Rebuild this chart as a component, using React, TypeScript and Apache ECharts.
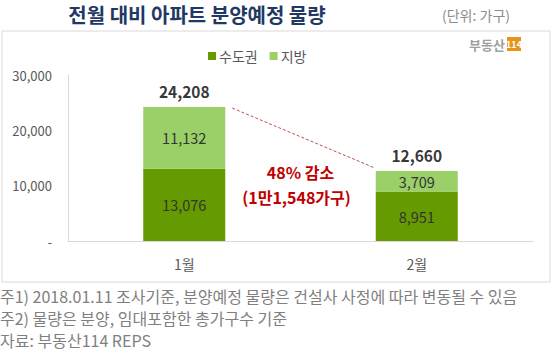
import React, { useEffect, useRef } from "react";
import * as echarts from "echarts";

const categories = ["1월", "2월"];
const capitalArea = [13076, 8951];
const regional = [11132, 3709];
const totals = [24208, 12660];
const seriesNames = ["수도권", "지방"];
const yTicks = [0, 10000, 20000, 30000];
const changeText = ["48% 감소", "(1만1,548가구)"];
const notes = [
  "주1) 2018.01.11 조사기준, 분양예정 물량은 건설사 사정에 따라 변동될 수 있음",
  "주2) 물량은 분양, 임대포함한 총가구수 기준",
  "자료: 부동산114 REPS",
];

const FONT = "'Noto Sans CJK KR', 'Noto Sans', sans-serif";

export default function App() {
  const ref = useRef<HTMLDivElement>(null);
  useEffect(() => {
    if (!ref.current) return;
    const chart = echarts.init(ref.current, null, { renderer: "svg" });
    const barW = 82;
    const fmt = (v: number) => (v === 0 ? "-" : v.toLocaleString("en-US"));
    chart.setOption({
      animation: false,
      textStyle: { fontFamily: FONT },
      grid: { left: 68, right: 27, top: 75, bottom: 116, containLabel: false },
      legend: {
        data: seriesNames,
        top: 44,
        left: 203,
        itemWidth: 8,
        itemHeight: 8,
        itemGap: 12,
        icon: "rect",
        textStyle: { fontSize: 14, color: "#595959", fontFamily: FONT, padding: [0, 0, 0, -2] },
      },
      xAxis: {
        type: "category",
        data: categories,
        axisLine: { lineStyle: { color: "#d9d9d9" } },
        axisTick: { show: false },
        axisLabel: { color: "#595959", fontSize: 14, margin: 16, fontFamily: FONT },
      },
      yAxis: {
        type: "value",
        min: yTicks[0],
        max: yTicks[yTicks.length - 1],
        interval: 10000,
        axisLine: { show: true, lineStyle: { color: "#d9d9d9" } },
        axisTick: { show: false },
        splitLine: { show: false },
        axisLabel: { color: "#595959", fontSize: 13, margin: 16, formatter: fmt, fontFamily: FONT },
      },
      series: [
        {
          name: seriesNames[0],
          type: "bar",
          stack: "t",
          barWidth: barW,
          data: capitalArea,
          itemStyle: { color: "#659a00" },
          label: { show: true, position: "inside", color: "#333", fontSize: 14.5, formatter: (p: any) => fmt(p.value), fontFamily: FONT },
        },
        {
          name: seriesNames[1],
          type: "bar",
          stack: "t",
          barWidth: barW,
          data: regional,
          itemStyle: { color: "#9bcf67" },
          label: { show: true, position: "inside", color: "#333", fontSize: 14.5, formatter: (p: any) => fmt(p.value), fontFamily: FONT },
        },
        {
          name: "합계",
          type: "scatter",
          data: totals,
          symbolSize: 0,
          silent: true,
          label: { show: true, position: "top", distance: 8, color: "#000", fontSize: 15.5, fontWeight: "bold", formatter: (p: any) => fmt(p.value), fontFamily: FONT },
        },
      ],
    });

    const p1 = chart.convertToPixel({ gridIndex: 0 }, [0, totals[0]]) as number[];
    const p2 = chart.convertToPixel({ gridIndex: 0 }, [1, totals[1]]) as number[];
    const midX = (p1[0] + p2[0]) / 2;

    chart.setOption({
      graphic: [
        {
          type: "rect",
          shape: { x: 2, y: 31, width: 548, height: 251 },
          style: { fill: "none", stroke: "#d9d9d9", lineWidth: 1 },
          z: -1,
        },
        {
          type: "text",
          x: 197,
          y: 14,
          style: { text: "전월 대비 아파트 분양예정 물량", font: `bold 20px ${FONT}`, fill: "#1f3864", align: "center", verticalAlign: "middle" },
        },
        {
          type: "text",
          x: 510,
          y: 15,
          style: { text: "(단위: 가구)", font: `14px ${FONT}`, fill: "#8c8c8c", align: "right", verticalAlign: "middle" },
        },
        {
          type: "text",
          x: 505,
          y: 44,
          style: { text: "부동산", font: `bold 13px ${FONT}`, fill: "#a0a0a0", align: "right", verticalAlign: "middle" },
        },
        {
          type: "rect",
          shape: { x: 507, y: 37, width: 14, height: 14 },
          style: { fill: "#e8941a" },
        },
        {
          type: "text",
          x: 514,
          y: 44,
          style: { text: "114", font: `bold 9px ${FONT}`, fill: "#fff", align: "center", verticalAlign: "middle" },
        },
        {
          type: "line",
          shape: { x1: p1[0] + barW / 2 + 7, y1: p1[1] + 1, x2: p2[0] - barW / 2 - 1, y2: p2[1] - 3 },
          style: { stroke: "#c0504d", lineWidth: 1, lineDash: [3, 2] },
        },
        {
          type: "text",
          x: midX,
          y: 172,
          style: { text: changeText[0], font: `bold 16px ${FONT}`, fill: "#c00000", align: "center", verticalAlign: "middle" },
        },
        {
          type: "text",
          x: midX - 4,
          y: 197,
          style: { text: changeText[1], font: `bold 16px ${FONT}`, fill: "#c00000", align: "center", verticalAlign: "middle" },
        },
        ...notes.map((n, i) => ({
          type: "text",
          x: 0,
          y: 296 + i * 22,
          style: { text: n, font: `16px ${FONT}`, fill: "#7f7f7f", align: "left", verticalAlign: "middle" },
        })),
      ],
    });
    return () => chart.dispose();
  }, []);
  return <div ref={ref} style={{ width: 560, height: 357, position: "absolute", left: 0, top: 0, background: "#fff" }} />;
}
